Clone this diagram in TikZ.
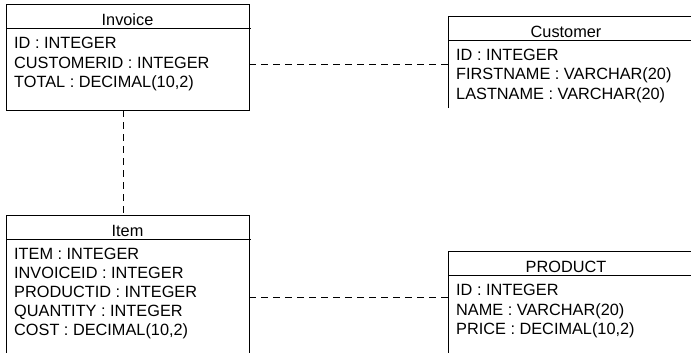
\documentclass[tikz,border=0pt]{standalone}
\usepackage{fontspec}
\setmainfont{Liberation Sans}
\begin{document}
\begin{tikzpicture}[x=1pt,y=-1pt,
  tbl/.style={inner sep=0pt,outer sep=0pt,anchor=north west},
  edge/.style={draw=black,line width=1pt},
  ttl/.style={inner sep=0pt,anchor=base,font=\fontsize{16.3}{19}\selectfont},
  fld/.style={inner sep=0pt,anchor=base west,font=\fontsize{16.3}{19}\selectfont},
  rel/.style={draw=black,line width=1pt,dash pattern=on 7pt off 5pt}]
\useasboundingbox (0,0) rectangle (691,353);
\clip (0,0) rectangle (691,353);
% table frames
\node[tbl,minimum width=243pt,minimum height=105pt] (invoice) at (6,5) {};
\node[tbl,minimum width=260pt,minimum height=91pt] (customer) at (448,17) {};
\node[tbl,minimum width=243pt,minimum height=150pt] (item) at (6,215) {};
\node[tbl,minimum width=260pt,minimum height=110pt] (product) at (448,251) {};
% Invoice
\draw[edge] (invoice.north west) rectangle (invoice.south east);
\draw[edge] ([yshift=-24pt]invoice.north west) -- ([xshift=2pt,yshift=-24pt]invoice.north east);
\node[ttl] (invoiceT) at (127.5,26) {Invoice};
\node[fld] (inv1) at (14,49) {ID : INTEGER};
\node[fld] (inv2) at (14,68.5) {CUSTOMERID : INTEGER};
\node[fld] (inv3) at (14,88) {TOTAL : DECIMAL(10,2)};
% Customer
\draw[edge] (customer.south west) -- (customer.north west) -- (customer.north east);
\draw[edge] ([yshift=-24pt]customer.north west) -- ([yshift=-24pt]customer.north east);
\node[ttl] (customerT) at (566,38) {Customer};
\node[fld] (cus1) at (456,60.5) {ID : INTEGER};
\node[fld] (cus2) at (456,80) {FIRSTNAME : VARCHAR(20)};
\node[fld] (cus3) at (456,99.5) {LASTNAME : VARCHAR(20)};
% Item
\draw[edge] (item.south west) -- (item.north west) -- (item.north east) -- (item.south east);
\draw[edge] ([yshift=-24pt]item.north west) -- ([xshift=2pt,yshift=-24pt]item.north east);
\node[ttl] (itemT) at (127.5,236) {Item};
\node[fld] (itm1) at (14,259.5) {ITEM : INTEGER};
\node[fld] (itm2) at (14,278.5) {INVOICEID : INTEGER};
\node[fld] (itm3) at (14,297.5) {PRODUCTID : INTEGER};
\node[fld] (itm4) at (14,316.5) {QUANTITY : INTEGER};
\node[fld] (itm5) at (14,335.5) {COST : DECIMAL(10,2)};
% Product
\draw[edge] (product.south west) -- (product.north west) -- (product.north east);
\draw[edge] ([yshift=-24pt]product.north west) -- ([yshift=-24pt]product.north east);
\node[ttl] (productT) at (566,272) {PRODUCT};
\node[fld] (prd1) at (456,295.5) {ID : INTEGER};
\node[fld] (prd2) at (456,315) {NAME : VARCHAR(20)};
\node[fld] (prd3) at (456,334.5) {PRICE : DECIMAL(10,2)};
% relations
\draw[rel] (invoice.east |- 0,65) -- (customer.west |- 0,65);
\draw[rel] (invoice.south -| 123,0) -- (item.north -| 123,0);
\draw[rel] (item.east |- 0,297) -- (product.west |- 0,297);
\end{tikzpicture}
\end{document}
